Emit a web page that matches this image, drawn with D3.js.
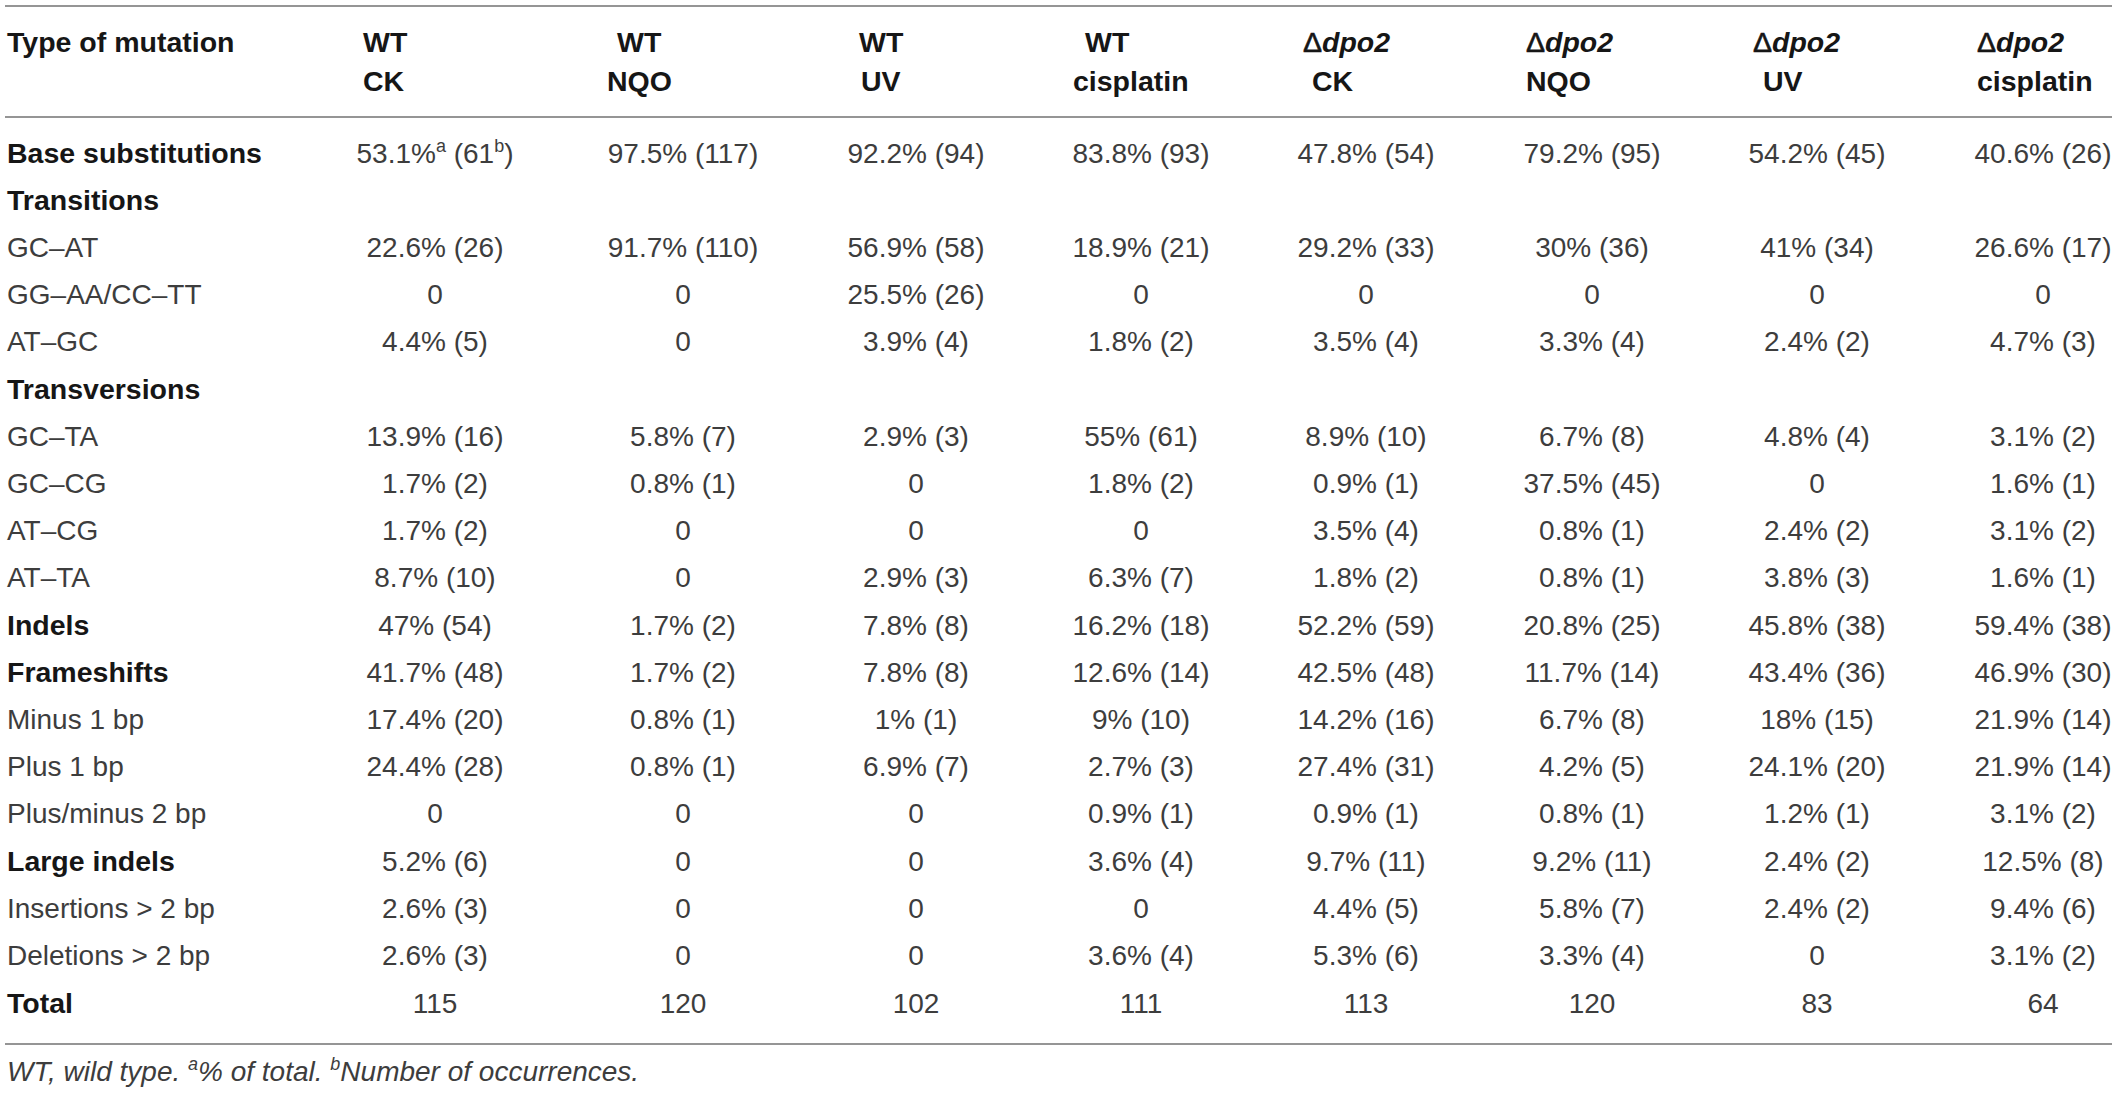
<!DOCTYPE html>
<html>
<head>
<meta charset="utf-8">
<script src="https://cdn.jsdelivr.net/npm/d3@7/dist/d3.min.js"></script>
<style>
html,body{margin:0;padding:0;background:#fff;}
svg{display:block;}
</style>
</head>
<body>
<svg id="chart" width="2118" height="1093"></svg>
<script>
// ---------- DATA ----------
const rowLabels = ["Base substitutions","Transitions","GC–AT","GG–AA/CC–TT","AT–GC","Transversions",
  "GC–TA","GC–CG","AT–CG","AT–TA","Indels","Frameshifts","Minus 1 bp","Plus 1 bp","Plus/minus 2 bp",
  "Large indels","Insertions > 2 bp","Deletions > 2 bp","Total"];
const boldRows = [0,1,5,10,11,15,18];
const colStrain = ["WT","WT","WT","WT","Δdpo2","Δdpo2","Δdpo2","Δdpo2"];
const colTreatment = ["CK","NQO","UV","cisplatin","CK","NQO","UV","cisplatin"];

// percentages (null = blank row) and counts per column
const wtCKPct   = [53.1,null,22.6,0,4.4,null,13.9,1.7,1.7,8.7,47,41.7,17.4,24.4,0,5.2,2.6,2.6];
const wtCKCnt   = [61,null,26,0,5,null,16,2,2,10,54,48,20,28,0,6,3,3];
const wtNQOPct  = [97.5,null,91.7,0,0,null,5.8,0.8,0,0,1.7,1.7,0.8,0.8,0,0,0,0];
const wtNQOCnt  = [117,null,110,0,0,null,7,1,0,0,2,2,1,1,0,0,0,0];
const wtUVPct   = [92.2,null,56.9,25.5,3.9,null,2.9,0,0,2.9,7.8,7.8,1,6.9,0,0,0,0];
const wtUVCnt   = [94,null,58,26,4,null,3,0,0,3,8,8,1,7,0,0,0,0];
const wtCisPct  = [83.8,null,18.9,0,1.8,null,55,1.8,0,6.3,16.2,12.6,9,2.7,0.9,3.6,0,3.6];
const wtCisCnt  = [93,null,21,0,2,null,61,2,0,7,18,14,10,3,1,4,0,4];
const dCKPct    = [47.8,null,29.2,0,3.5,null,8.9,0.9,3.5,1.8,52.2,42.5,14.2,27.4,0.9,9.7,4.4,5.3];
const dCKCnt    = [54,null,33,0,4,null,10,1,4,2,59,48,16,31,1,11,5,6];
const dNQOPct   = [79.2,null,30,0,3.3,null,6.7,37.5,0.8,0.8,20.8,11.7,6.7,4.2,0.8,9.2,5.8,3.3];
const dNQOCnt   = [95,null,36,0,4,null,8,45,1,1,25,14,8,5,1,11,7,4];
const dUVPct    = [54.2,null,41,0,2.4,null,4.8,0,2.4,3.8,45.8,43.4,18,24.1,1.2,2.4,2.4,0];
const dUVCnt    = [45,null,34,0,2,null,4,0,2,3,38,36,15,20,1,2,2,0];
const dCisPct   = [40.6,null,26.6,0,4.7,null,3.1,1.6,3.1,1.6,59.4,46.9,21.9,21.9,3.1,12.5,9.4,3.1];
const dCisCnt   = [26,null,17,0,3,null,2,1,2,1,38,30,14,14,2,8,6,2];
const totals    = [115,120,102,111,113,120,83,64];

const pctCols = [wtCKPct,wtNQOPct,wtUVPct,wtCisPct,dCKPct,dNQOPct,dUVPct,dCisPct];
const cntCols = [wtCKCnt,wtNQOCnt,wtUVCnt,wtCisCnt,dCKCnt,dNQOCnt,dUVCnt,dCisCnt];

// ---------- LAYOUT ----------
const svg = d3.select("#chart");
const FONT = "'Liberation Sans', Arial, Helvetica, sans-serif";
const valSize = 28, boldSize = 28.5, supSize = 18;
const valColor = "#3d3d3d", boldColor = "#161616";

const colIdx = d3.range(8);
const xCenter = d3.scaleOrdinal().domain(colIdx).range([435,683,916,1141,1366,1592,1817,2043]);
const xHeader = d3.scaleOrdinal().domain(colIdx).range([363,607,859,1073,1303,1526,1753,1977]);
const indent1 = [0,10,0,12,0,0,0,0];   // leading space on first header line
const indent2 = [0,0,2,0,9,0,10,0];    // leading space on second header line

const rowIdx = d3.range(rowLabels.length);
const yRow = d3.scaleLinear().domain([0,17]).range([162.5,965]);
const yOf = i => i === 18 ? 1013 : yRow(i);

// rules
[6,117,1044].forEach(y=>{
  svg.append("line").attr("x1",5).attr("x2",2112).attr("y1",y).attr("y2",y)
    .attr("stroke","#959595").attr("stroke-width",2);
});

// header
const hdr = svg.append("g").attr("font-family",FONT).attr("font-size",boldSize)
  .attr("fill",boldColor).attr("font-weight","bold");
hdr.append("text").attr("x",7).attr("y",52).text("Type of mutation");
colIdx.forEach(c=>{
  const t1 = hdr.append("text").attr("x",xHeader(c)+indent1[c]).attr("y",52);
  if (colStrain[c].startsWith("Δ")) {
    t1.append("tspan").attr("font-weight","normal").attr("stroke",boldColor).attr("stroke-width",0.6).text("Δ");
    t1.append("tspan").attr("font-style","italic").text(colStrain[c].slice(1));
  } else t1.text(colStrain[c]);
  hdr.append("text").attr("x",xHeader(c)+indent2[c]).attr("y",91).text(colTreatment[c]);
});

// row labels
const body = svg.append("g").attr("font-family",FONT);
body.selectAll("text.lab").data(rowIdx).join("text").attr("class","lab")
  .attr("x",7).attr("y",i=>yOf(i))
  .attr("font-size",i=>boldRows.includes(i)?boldSize:valSize)
  .attr("font-weight",i=>boldRows.includes(i)?"bold":"normal")
  .attr("fill",i=>boldRows.includes(i)?boldColor:valColor)
  .text(i=>rowLabels[i]);

// cells
colIdx.forEach(c=>{
  rowIdx.forEach(r=>{
    let p = null, n = null;
    if (r < 18) { p = pctCols[c][r]; n = cntCols[c][r]; if (p === null) return; }
    const t = body.append("text").attr("x",xCenter(c)).attr("y",yOf(r))
      .attr("text-anchor","middle").attr("font-size",valSize).attr("fill",valColor);
    if (r === 18) { t.text(totals[c]); return; }
    if (n === 0) { t.text("0"); return; }
    if (c===0 && r===0) {
      t.append("tspan").text(p+"%");
      t.append("tspan").attr("font-size",supSize).attr("dy",-11).text("a");
      t.append("tspan").attr("dy",11).text(" ("+n);
      t.append("tspan").attr("font-size",supSize).attr("dy",-11).text("b");
      t.append("tspan").attr("dy",11).text(")");
    } else {
      t.text(p+"% ("+n+")");
    }
  });
});

// footnote
const foot = svg.append("text").attr("x",7).attr("y",1081)
  .attr("font-family",FONT).attr("font-size",valSize).attr("font-style","italic").attr("fill",valColor);
foot.append("tspan").text("WT, wild type. ");
foot.append("tspan").attr("font-size",supSize).attr("dy",-11).text("a");
foot.append("tspan").attr("dy",11).text("% of total. ");
foot.append("tspan").attr("font-size",supSize).attr("dy",-11).text("b");
foot.append("tspan").attr("dy",11).text("Number of occurrences.");
</script>
</body>
</html>
